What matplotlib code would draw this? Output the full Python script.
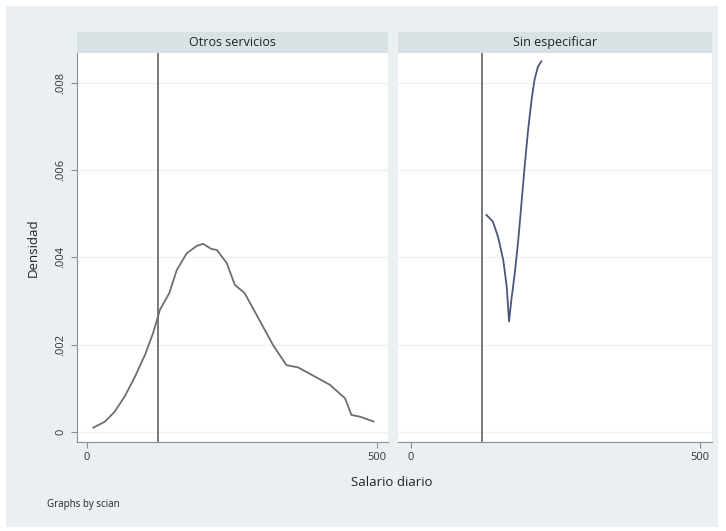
import matplotlib.pyplot as plt

plt.rcParams['font.family'] = ['Open Sans', 'DejaVu Sans']

# curve: Otros servicios
otros_x = [11, 31, 48, 65, 83, 100, 114, 126, 142, 155, 172, 189, 200, 215,
           224, 241, 255, 272, 321, 344, 364, 419, 445, 456, 471, 494]
otros_y = [0.0001, 0.000236, 0.000466, 0.00081, 0.00127, 0.00176, 0.00226,
           0.0028, 0.00318, 0.00371, 0.00409, 0.00426, 0.00431, 0.00419,
           0.00417, 0.00387, 0.00337, 0.00318, 0.00199, 0.00153, 0.00148,
           0.00108, 0.00077, 0.00039, 0.00035, 0.00024]

# Sin especificar
sin_x = [131, 142, 151, 160, 166, 170, 174, 180, 186, 191, 197, 203, 209,
         214, 220, 226]
sin_y = [0.00497, 0.00482, 0.00447, 0.00394, 0.00333, 0.00253, 0.00302,
         0.00364, 0.0044, 0.00516, 0.00608, 0.00692, 0.00761, 0.00806,
         0.00837, 0.00849]

panel_titles = ['Otros servicios', 'Sin especificar']
salario_min = 123
yticks = [0, 0.002, 0.004, 0.006, 0.008]
ytick_labels = ['0', '.002', '.004', '.006', '.008']
xticks = [0, 500]

W, H = 726, 531
fig = plt.figure(figsize=(W / 100, H / 100), dpi=100, facecolor='white')

def box(x0, y0, x1, y1):
    return [x0 / W, 1 - y1 / H, (x1 - x0) / W, (y1 - y0) / H]

# graph region background
bgax = fig.add_axes(box(6, 6, 718, 527), zorder=-1)
bgax.set_facecolor('#eaeff2')
bgax.set_xticks([])
bgax.set_yticks([])
for s in bgax.spines.values():
    s.set_visible(False)

panels = [(77, 388, otros_x, otros_y, '#6e6e6e'),
          (398, 712, sin_x, sin_y, '#4c5580')]

for i, (x0, x1, xs, ys, col) in enumerate(panels):
    ax = fig.add_axes(box(x0, 53, x1, 442))
    ax.set_facecolor('white')
    ax.plot(xs, ys, color=col, lw=1.3, zorder=3, solid_joinstyle='round')
    ax.axvline(salario_min, color='#555555', lw=1.1, zorder=2)
    ax.set_ylim(-0.000229, 0.00868)
    ax.set_xlim(-17 if i == 0 else -22, 519 if i == 0 else 521)
    ax.set_yticks(yticks)
    ax.set_xticks(xticks)
    for t in yticks:
        ax.axhline(t, color='#eef2f4', lw=1, zorder=1)
    for s in ['top', 'right']:
        ax.spines[s].set_visible(False)
    ax.spines['bottom'].set_color('#8a8f94')
    ax.spines['left'].set_color('#8a8f94')
    ax.tick_params(colors='#8a8f94', labelcolor='#333333', labelsize=8,
                   length=4, width=0.8)
    if i == 0:
        ax.set_yticklabels(ytick_labels, rotation=90, va='center')
    else:
        ax.spines['left'].set_visible(False)
        ax.tick_params(axis='y', left=False, labelleft=False)

    sax = fig.add_axes(box(x0, 32, x1, 53))
    sax.set_facecolor('#d8e1e4')
    sax.set_xticks([])
    sax.set_yticks([])
    for s in sax.spines.values():
        s.set_visible(False)
    sax.text(0.5, 0.5, panel_titles[i], ha='center', va='center',
             fontsize=9, color='#222222', transform=sax.transAxes)

fig.text(33 / W, 1 - 248 / H, 'Densidad', rotation=90, ha='center',
         va='center', fontsize=9.5, color='#222222')
fig.text(392 / W, 1 - 482 / H, 'Salario diario', ha='center', va='center',
         fontsize=9.5, color='#222222')
fig.text(47 / W, 1 - 505 / H, 'Graphs by scian', ha='left', va='center',
         fontsize=7, color='#222222')

fig.savefig('out.png', dpi=100, facecolor='white')
